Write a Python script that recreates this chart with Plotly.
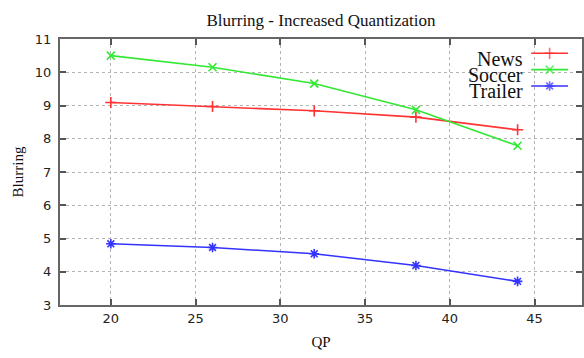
import plotly.graph_objects as go

# Blurring measured at each quantization parameter
qp = [20, 26, 32, 38, 44]
news = [9.09, 8.97, 8.84, 8.65, 8.27]
soccer = [10.50, 10.15, 9.66, 8.87, 7.79]
trailer = [4.84, 4.73, 4.54, 4.19, 3.71]

series_names = ["News", "Soccer", "Trailer"]
series_colors = ["#ff3333", "#33e833", "#3333ff"]
series_symbols = ["cross-thin", "x-thin", "asterisk"]

x_ticks = [20, 25, 30, 35, 40, 45]
y_ticks = [3, 4, 5, 6, 7, 8, 9, 10, 11]

W, H = 584, 358
L, R, T, B = 60, 0, 39, 53
plot_w = W - L - R
plot_h = H - T - B


def px_to_paper_x(px):
    return (px - L) / plot_w


def px_to_paper_y(py):
    return (H - B - py) / plot_h


fig = go.Figure()

for name, ys, color, sym in zip(series_names, [news, soccer, trailer],
                                series_colors, series_symbols):
    fig.add_trace(go.Scatter(
        x=qp, y=ys, name=name, mode="lines+markers",
        line=dict(color=color, width=1.6),
        marker=dict(symbol=sym, size=8, color=color,
                    line=dict(color=color, width=1.6)),
        showlegend=False,
    ))

# gnuplot-style key: label on the left, sample on the right
key_line_y = [53.3, 69.6, 86.0]
key_text_y = [59.5, 75.0, 90.5]
x0, x1 = px_to_paper_x(533), px_to_paper_x(570)
xm = (x0 + x1) / 2
for name, color, sym, ly, ty in zip(series_names, series_colors,
                                    series_symbols, key_line_y, key_text_y):
    yp = px_to_paper_y(ly)
    fig.add_trace(go.Scatter(
        x=[x0, xm, x1], y=[yp, yp, yp], xaxis="x2", yaxis="y2",
        mode="lines+markers", showlegend=False, hoverinfo="skip",
        line=dict(color=color, width=1.6),
        marker=dict(symbol=sym, size=[0, 8, 0], color=color,
                    line=dict(color=color, width=1.6)),
    ))
    fig.add_annotation(
        x=px_to_paper_x(527), y=px_to_paper_y(ty), xref="paper", yref="paper",
        text=name, showarrow=False, xanchor="right", yanchor="middle",
        font=dict(family="Liberation Serif", size=20, color="#111111"),
    )

axis_common = dict(
    showline=True, linecolor="#666666", linewidth=2, mirror="ticks",
    ticks="inside", ticklen=6, tickwidth=1.5, tickcolor="#555555",
    showgrid=True, gridcolor="#b4b4b4", griddash="dot", gridwidth=1,
    zeroline=False,
    tickfont=dict(family="DejaVu Sans", size=13, color="#222222"),
)

fig.update_layout(
    width=W, height=H,
    margin=dict(l=L, r=R, t=T, b=B),
    paper_bgcolor="white", plot_bgcolor="white",
    title=dict(text="Blurring - Increased Quantization",
               x=0.5, xref="paper", y=1 - 20 / H, yref="container",
               xanchor="center", yanchor="middle",
               font=dict(family="Liberation Serif", size=17, color="#111111")),
    xaxis=dict(range=[17, 47.8], tickvals=x_ticks,
               title=dict(text="QP", standoff=12,
                          font=dict(family="Liberation Serif", size=15,
                                    color="#111111")),
               **axis_common),
    yaxis=dict(range=[3, 11], tickvals=y_ticks, ticklabelstandoff=4,
               title=dict(text="Blurring", standoff=8,
                          font=dict(family="Liberation Serif", size=15,
                                    color="#111111")),
               **axis_common),
    xaxis2=dict(overlaying="x", range=[0, 1], visible=False),
    yaxis2=dict(overlaying="y", range=[0, 1], visible=False),
    showlegend=False,
)

fig.write_html("out.html")
